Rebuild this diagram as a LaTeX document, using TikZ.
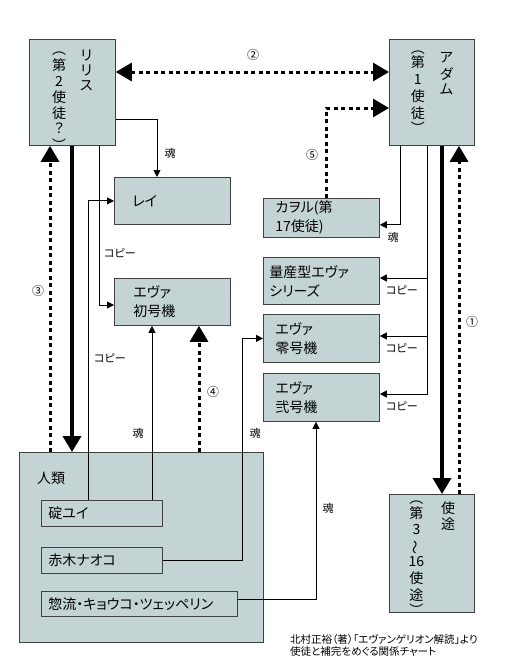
\documentclass[tikz,border=0pt]{standalone}
\usepackage{fontspec}
\setmainfont{Noto Sans CJK JP}[RawFeature=+palt]
\usepackage{tikz}
\usetikzlibrary{positioning}
\usetikzlibrary{calc}
\usetikzlibrary{arrows.meta}
\definecolor{boxfill}{RGB}{196,212,212}
\newcommand{\boxfnt}{\fontsize{14}{19}\selectfont}
\newcommand{\tatefnt}{\fontsize{14}{14.5}\selectfont}
\newcommand{\lblfnt}{\fontsize{11}{13}\selectfont}
\newcommand{\capfnt}{\fontsize{10.5}{12.5}\selectfont}
% one column of upright (vertical) text, [row stretch]
\newcommand{\tatecol}[2][1]{\renewcommand{\arraystretch}{#1}\begin{tabular}[t]{@{}c@{}}#2\end{tabular}}

\begin{document}
\begin{tikzpicture}[
    x=1pt, y=-1pt,
    BigTip/.tip={Triangle[length=16pt,width=18pt]},
    SmallTip/.tip={Triangle[length=7pt,width=7pt]},
    box/.style={draw=black!75, line width=0.8pt, fill=boxfill, anchor=north west, inner sep=0pt, font=\boxfnt},
    hbox/.style={box, align=left, minimum height=47pt},
    vbox/.style={box, align=center, font=\tatefnt, minimum width=86pt, minimum height=106pt},
    soul/.style={line width=0.9pt, -SmallTip},
    bigarrow/.style={line width=3.5pt, -BigTip},
    dotarrow/.style={line width=3pt, dash pattern=on 4pt off 3.5pt, -BigTip},
    lbl/.style={font=\lblfnt, inner sep=0pt}
]
    \useasboundingbox (0,0) rectangle (504,672);

    % apostles, written top to bottom
    \node[vbox, text height=15pt, text depth=91pt] (lilith) at (29,39)
        {\tatecol[1.05]{︵\\第\\2\\使\\徒\\？\\︶}\hspace{14pt}\raisebox{-6.3pt}{\tatecol[1.03]{リ\\リ\\ス}}};
    \node[vbox, minimum width=85pt, text height=14pt, text depth=92pt] (adam) at (389,39)
        {\tatecol[1.17]{︵\\[-2.7pt]第\\1\\使\\徒\\[-2.3pt]︶}\hspace{15pt}\raisebox{-9.3pt}{\tatecol[1.03]{ア\\ダ\\ム}}};
    \node[vbox, minimum width=85pt, minimum height=118pt, text height=9pt, text depth=109pt] (apostles) at (389,494)
        {\tatecol[1.12]{︵\\[-1.9pt]第\\3\\\rotatebox[origin=c]{90}{～}\\16\\使\\途\\[-1.7pt]︶}\hspace{17pt}\raisebox{-10.3pt}{\tatecol[1.03]{使\\途}}};

    % the copies
    \node[hbox, text width=80pt, inner xsep=18pt] (rei) at (114,177) {レイ};
    \node[hbox, text width=78pt, inner xsep=19pt] (eva01) at (114,278) {エヴァ\\初号機};
    \node[hbox, text width=92pt, inner xsep=12pt, minimum height=39pt] (kaworu) at (263,198) {カヲル(第\\17使徒)};
    \node[hbox, text width=104pt, inner xsep=6pt] (massprod) at (263,257) {量産型エヴァ\\シリーズ};
    \node[hbox, text width=92pt, inner xsep=12pt, minimum height=48pt] (eva00) at (263,314) {エヴァ\\零号機};
    \node[hbox, text width=92pt, inner xsep=12pt, minimum height=48pt] (eva02) at (263,373) {エヴァ\\弐号機};

    % humankind
    \node[box, minimum width=244pt, minimum height=190pt] (human) at (19,452) {};
    \node[anchor=west, font=\boxfnt, inner sep=0pt] (humanlbl) at (37,478) {人類};
    \node[hbox, text width=107pt, inner xsep=7pt, minimum height=26pt] (yui) at (41,500) {碇ユイ};
    \node[hbox, text width=107pt, inner xsep=7pt, minimum height=26pt] (naoko) at (41,547) {赤木ナオコ};
    \node[hbox, text width=182pt, inner xsep=7pt, minimum height=25pt] (kyoko) at (41,591) {惣流・キョウコ・ツェッペリン};

    % dotted and thick arrows
    \draw[dotarrow, BigTip-BigTip] ([yshift=-33pt]lilith.north east) -- ([yshift=-33pt]adam.north west);
    \draw[dotarrow] ([xshift=31pt]human.north west) -- ([xshift=21pt]lilith.south west);
    \draw[bigarrow] ([xshift=43pt]lilith.south west) -- ([xshift=53pt]human.north west);
    \draw[dotarrow] ([xshift=180pt]human.north west) -- ([xshift=85pt]eva01.south west);
    \draw[dotarrow] ([xshift=63pt]kaworu.north west) |- ([yshift=-69pt]adam.north west);
    \draw[bigarrow] ([xshift=53pt]adam.south west) -- ([xshift=53pt]apostles.north west);
    \draw[dotarrow] ([xshift=70pt]apostles.north west) -- ([xshift=70pt]adam.south west);

    % thin arrows
    \draw[soul] ([yshift=-80pt]lilith.north east) -| ([xshift=43pt]rei.north west);
    \draw[soul] ([xshift=70pt]lilith.south west) |- ([yshift=-27pt]eva01.north west);
    \draw[soul] ([xshift=47pt]yui.north west) |- (rei.west);
    \draw[soul] ([xshift=111pt]yui.north west) -- ([xshift=38pt]eva01.south west);
    \draw[soul] (naoko.east) -| ([xshift=-21pt]eva00.west) -- (eva00.west);
    \draw[soul] ([yshift=-8pt]kyoko.north east) -| ([xshift=53pt]eva02.south west);
    \draw[soul] ([xshift=11pt]adam.south west) |- ([yshift=13pt]kaworu.south east);
    \draw[soul] ([xshift=38pt]adam.south west) |- ([yshift=-21pt]massprod.north east);
    \draw[soul] ([xshift=38pt]adam.south west) |- ([yshift=-22pt]eva00.north east);
    \draw[soul] ([xshift=38pt]adam.south west) |- ([yshift=-21pt]eva02.north east);

    % labels
    \node[lbl, font=\fontsize{12}{14}\selectfont] (one) at (472,322) {①};
    \node[lbl, font=\fontsize{12}{14}\selectfont] (two) at (253,55) {②};
    \node[lbl, font=\fontsize{12}{14}\selectfont] (three) at (38,291) {③};
    \node[lbl, font=\fontsize{12}{14}\selectfont] (four) at (213,392) {④};
    \node[lbl, font=\fontsize{12}{14}\selectfont] (five) at (312,155) {⑤};
    \node[lbl] (soulrei) at (170,153) {魂};
    \node[lbl] (soulkaworu) at (393,237) {魂};
    \node[lbl] (souleva01) at (138,433) {魂};
    \node[lbl] (souleva00) at (255,433) {魂};
    \node[lbl] (souleva02) at (328,508) {魂};
    \node[lbl] (copyeva01) at (120,253) {コピー};
    \node[lbl] (copyrei) at (110,358) {コピー};
    \node[lbl] (copymass) at (402,290) {コピー};
    \node[lbl] (copyeva00) at (402,348) {コピー};
    \node[lbl] (copyeva02) at (402,406) {コピー};

    \node[anchor=north west, align=left, font=\capfnt, inner sep=0pt] (caption) at (290,634) {北村正裕（著）「エヴァンゲリオン解読」より\\使徒と補完をめぐる関係チャート};
\end{tikzpicture}
\end{document}
